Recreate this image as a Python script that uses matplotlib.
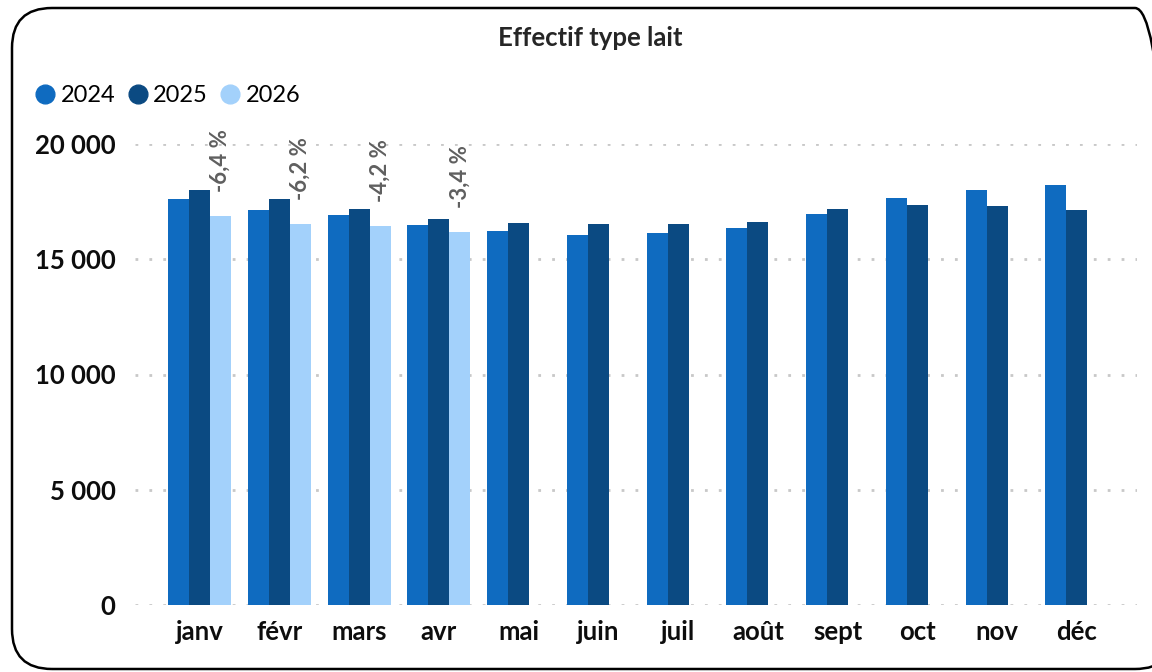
import matplotlib
matplotlib.use("Agg")
import matplotlib.pyplot as plt
from matplotlib.patches import FancyBboxPatch
from matplotlib.lines import Line2D
import numpy as np

months = ["janv", "févr", "mars", "avr", "mai", "juin", "juil", "août", "sept", "oct", "nov", "déc"]
vals_2024 = [17610, 17140, 16920, 16490, 16230, 16050, 16140, 16360, 16960, 17660, 18000, 18220]
vals_2025 = [18000, 17610, 17180, 16750, 16570, 16530, 16530, 16620, 17180, 17350, 17310, 17140]
vals_2026 = [16880, 16530, 16440, 16180]
pct_labels = ["-6,4 %", "-6,2 %", "-4,2 %", "-3,4 %"]
y_ticks = [0, 5000, 10000, 15000, 20000]
y_tick_labels = ["0", "5 000", "10 000", "15 000", "20 000"]

c2024 = "#0F6BC0"
c2025 = "#0B4A82"
c2026 = "#A3D1FB"

plt.rcParams['font.family'] = ['Lato', 'DejaVu Sans']

fig = plt.figure(figsize=(11.52, 6.72), dpi=100)
ax = fig.add_axes([135 / 1152, 1 - 605 / 672, 1002 / 1152, 461 / 672])

x = np.arange(len(months))
w = 0.263
ax.bar(x - w, vals_2024, w, color=c2024, zorder=3)
ax.bar(x, vals_2025, w, color=c2025, zorder=3)
x26 = x[:len(vals_2026)] + w
ax.bar(x26, vals_2026, w, color=c2026, zorder=3)

# variation labels above the 2026 bars
for xi, v, lab in zip(x26, vals_2026, pct_labels):
    ax.annotate(lab, (xi, v), xytext=(0, 17), textcoords="offset points",
                rotation=90, ha="center", va="bottom", fontsize=16,
                fontweight="bold", color="#5f5f5f", annotation_clip=False)

ax.set_xlim(-0.811, 11.753)
ax.set_ylim(0, 20000)
ax.set_yticks(y_ticks)
ax.set_yticklabels(y_tick_labels)
ax.set_xticks(x)
ax.set_xticklabels(months)
ax.tick_params(axis="y", length=0, pad=14, labelsize=18.5)
ax.tick_params(axis="x", length=0, pad=11, labelsize=18.5)
for lab in ax.get_xticklabels() + ax.get_yticklabels():
    lab.set_fontweight("bold")
    lab.set_color("#0d0d0d")

ax.grid(axis="y", color="#c8c8c8", linestyle=(0, (1, 4)), linewidth=2, zorder=0)
ax.set_axisbelow(True)
for s in ax.spines.values():
    s.set_visible(False)
ax.patch.set_alpha(0)

fig.text(590 / 1152, 1 - 38 / 672, "Effectif type lait", ha="center", va="center",
         fontsize=18.5, fontweight="bold", color="#262626")

handles = [Line2D([], [], marker="o", linestyle="none", markersize=13.5, color=c)
           for c in (c2024, c2025, c2026)]
fig.legend(handles, ["2024", "2025", "2026"], loc="center left",
           bbox_to_anchor=(36 / 1152, 1 - 96 / 672), ncol=3, frameon=False,
           fontsize=17, handlelength=0.8, handletextpad=0.25, columnspacing=0.55,
           borderpad=0, borderaxespad=0)

# rounded frame around the chart
frame = FancyBboxPatch((12, 3), 1163, 661, boxstyle="round,pad=0,rounding_size=40",
                       transform=None, facecolor="none", edgecolor="black", linewidth=1.8)
fig.patches.append(frame)

fig.savefig("out.png", dpi=100)
